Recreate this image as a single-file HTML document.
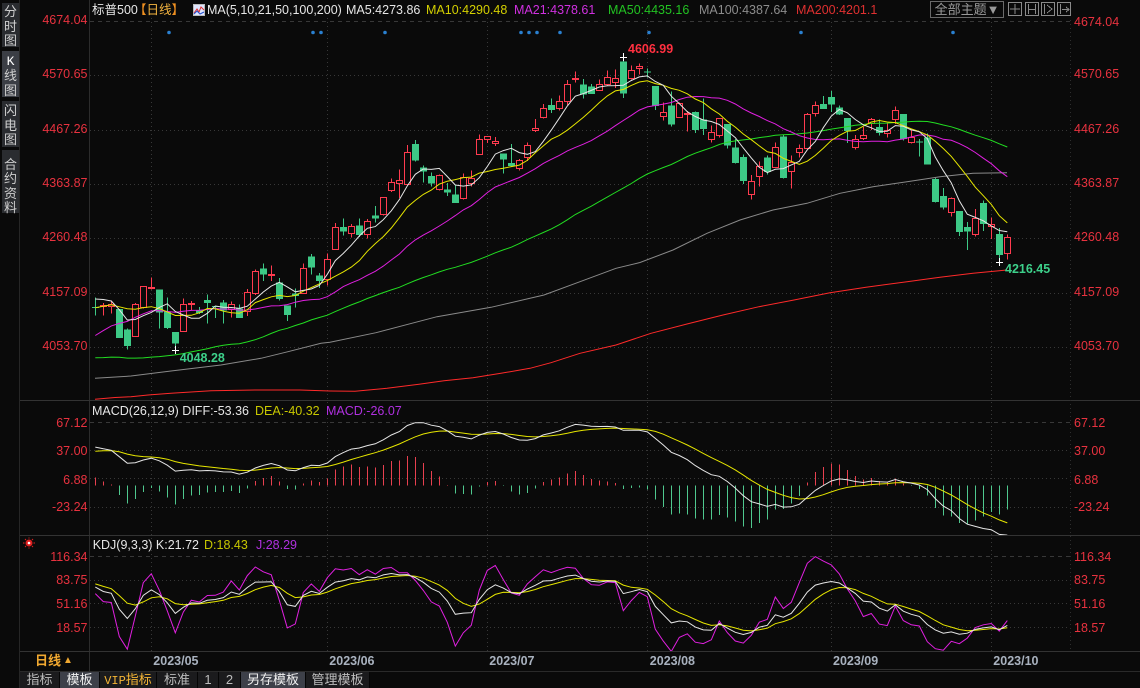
<!DOCTYPE html>
<html><head><meta charset="utf-8">
<style>
*{margin:0;padding:0;box-sizing:border-box}
html,body{width:1140px;height:688px;background:#0a0a0a;overflow:hidden}
body{position:relative;font-family:"Liberation Sans","Noto Sans CJK SC",sans-serif;}
.t{position:absolute;white-space:nowrap;font-size:12.5px;line-height:14px}
.l{text-align:right;width:70px;left:17.5px;color:#e8323f}
.r{left:1074px;color:#e8323f}
.h{top:1px;line-height:18px}
.sb{position:absolute;left:2px;width:17px;background:#2a2c30;color:#cfcfcf;font-size:13px;line-height:14.5px;text-align:center;font-family:"Liberation Sans","Noto Sans CJK SC",sans-serif}
.sbt{position:absolute;left:0;width:17px;text-align:center}
.tab{position:absolute;top:672px;height:16px;line-height:16px;font-size:13px;text-align:center;background:#1b1b1d;color:#bdbdbd;border-right:1px solid #050505;font-family:"Liberation Sans","Noto Sans CJK SC",sans-serif}
.tab.a{background:#3d4049;color:#f0f0f0}
.mo{font-weight:bold;color:#a9b2bf;top:654px}
.mk{font-weight:bold}
</style></head>
<body>
<svg width="1140" height="688" style="position:absolute;left:0;top:0" xmlns="http://www.w3.org/2000/svg">
<defs>
<clipPath id="cm"><rect x="90" y="0" width="980" height="400"/></clipPath>
<clipPath id="cd"><rect x="90" y="401" width="980" height="134"/></clipPath>
<clipPath id="ck"><rect x="90" y="536" width="980" height="115"/></clipPath>
</defs>
<g shape-rendering="crispEdges">
<line x1="19.5" y1="0" x2="19.5" y2="688" stroke="#262626"/>
<line x1="89.5" y1="0" x2="89.5" y2="672" stroke="#2c2c2c"/>
<line x1="20" y1="400.5" x2="1140" y2="400.5" stroke="#333"/>
<line x1="20" y1="535.5" x2="1140" y2="535.5" stroke="#333"/>
<line x1="20" y1="651.5" x2="1140" y2="651.5" stroke="#333"/>
<line x1="20" y1="671.5" x2="1140" y2="671.5" stroke="#2a2a2a"/>
<line x1="860" y1="669.5" x2="1010" y2="669.5" stroke="#2e2e2e"/>
<line x1="1070.5" y1="20" x2="1070.5" y2="651" stroke="#2e2e2e" stroke-dasharray="1 3"/>
<g stroke="#383838" stroke-dasharray="1 3">
<line x1="90" y1="21.5" x2="1070" y2="21.5" stroke-dasharray="4 4"/>
<line x1="90" y1="75.5" x2="1070" y2="75.5"/>
<line x1="90" y1="130.5" x2="1070" y2="130.5"/>
<line x1="90" y1="184.5" x2="1070" y2="184.5"/>
<line x1="90" y1="238.5" x2="1070" y2="238.5"/>
<line x1="90" y1="293.5" x2="1070" y2="293.5"/>
<line x1="90" y1="347.5" x2="1070" y2="347.5"/>
<line x1="90" y1="422.5" x2="1070" y2="422.5" stroke-dasharray="4 4"/>
<line x1="90" y1="450.5" x2="1070" y2="450.5"/>
<line x1="90" y1="478.5" x2="1070" y2="478.5"/>
<line x1="90" y1="507.5" x2="1070" y2="507.5"/>
<line x1="90" y1="556.5" x2="1070" y2="556.5" stroke-dasharray="4 4"/>
<line x1="90" y1="580.5" x2="1070" y2="580.5"/>
<line x1="90" y1="603.5" x2="1070" y2="603.5"/>
<line x1="90" y1="627.5" x2="1070" y2="627.5"/>
<line x1="151.5" y1="18" x2="151.5" y2="651"/>
<line x1="327.5" y1="18" x2="327.5" y2="651"/>
<line x1="487.5" y1="18" x2="487.5" y2="651"/>
<line x1="647.5" y1="18" x2="647.5" y2="651"/>
<line x1="831.5" y1="18" x2="831.5" y2="651"/>
<line x1="991.5" y1="18" x2="991.5" y2="651"/>
</g>
</g>
<g fill="#2a80d0">
<circle cx="169" cy="32.5" r="1.8"/><circle cx="313" cy="32.5" r="1.8"/><circle cx="321" cy="32.5" r="1.8"/><circle cx="385" cy="32.5" r="1.8"/>
<circle cx="521" cy="32.5" r="1.8"/><circle cx="529" cy="32.5" r="1.8"/><circle cx="537" cy="32.5" r="1.8"/><circle cx="560" cy="32.5" r="1.8"/>
<circle cx="649" cy="32.5" r="1.8"/><circle cx="801" cy="32.5" r="1.8"/><circle cx="953" cy="32.5" r="1.8"/>
</g>
<!-- header MA icon -->
<rect x="193.5" y="4.5" width="11" height="11" fill="#dfe6ff" stroke="#bbb"/>
<polyline points="194,13 197,9 199,12 201,7 204,10" fill="none" stroke="#e03030" stroke-width="1"/>
<polyline points="194,14 197,11 200,14 204,12" fill="none" stroke="#2050d0" stroke-width="1"/>
<!-- theme box & tool icons -->
<rect x="930.5" y="1.5" width="73" height="16" fill="none" stroke="#6a6a6a"/>
<g fill="none" stroke="#8a8a8a" shape-rendering="crispEdges">
<rect x="1008.5" y="2.5" width="13" height="13"/>
<line x1="1015" y1="4" x2="1015" y2="14"/><line x1="1010" y1="9" x2="1020" y2="9"/>
<rect x="1025.5" y="2.5" width="13" height="13"/>
<line x1="1028.5" y1="4" x2="1028.5" y2="14"/><line x1="1035.5" y1="4" x2="1035.5" y2="14"/><line x1="1029" y1="9.5" x2="1035" y2="9.5"/>
<rect x="1041.5" y="2.5" width="13" height="13"/>
<line x1="1044.5" y1="4" x2="1044.5" y2="14"/><polyline points="1047,5 1052,9 1047,13"/>
<rect x="1057.5" y="2.5" width="13" height="13"/>
<line x1="1060.5" y1="4" x2="1060.5" y2="14"/><line x1="1062" y1="9.5" x2="1069" y2="9.5"/><polyline points="1066,7 1069,9.5 1066,12"/>
</g>
<!-- KDJ icon -->
<g>
<circle cx="29" cy="543" r="3.5" fill="#e02020"/><circle cx="29" cy="543" r="1.3" fill="#fff"/>
<g stroke="#e02020" stroke-width="1"><line x1="23" y1="543" x2="24.5" y2="543"/><line x1="33.5" y1="543" x2="35" y2="543"/><line x1="29" y1="537.5" x2="29" y2="538.5"/><line x1="29" y1="547.5" x2="29" y2="548.5"/><line x1="25" y1="539" x2="26" y2="540"/><line x1="32" y1="546" x2="33" y2="547"/><line x1="33" y1="539" x2="32" y2="540"/><line x1="25" y1="547" x2="26" y2="546"/></g>
</g>
<g id="dyn"></g>
</svg>

<!-- sidebar -->
<div class="sb" style="top:3px;height:44px"><div class="sbt" style="top:2px">分<br>时<br>图</div></div>
<div class="sb" style="top:51px;height:46px;background:#3b3e45"><div class="sbt" style="top:2.5px"><span style="font-family:'Liberation Mono',monospace;color:#fff">K</span><br>线<br>图</div></div>
<div class="sb" style="top:101px;height:46px"><div class="sbt" style="top:3px">闪<br>电<br>图</div></div>
<div class="sb" style="top:150px;height:63px"><div class="sbt" style="top:7.5px;line-height:14.6px">合<br>约<br>资<br>料</div></div>

<!-- header -->
<div class="t h" style="left:92px;color:#e6e6e6">标普500</div>
<div class="t h" style="left:134px;color:#f09020">【<span style="color:#f5b540">日线</span>】</div>
<div class="t h" style="left:207px;color:#e6e6e6">MA(5,10,21,50,100,200)</div>
<div class="t h" style="left:346px;color:#e6e6e6">MA5:4273.86</div>
<div class="t h" style="left:426px;color:#d4d000">MA10:4290.48</div>
<div class="t h" style="left:514px;color:#d030e0">MA21:4378.61</div>
<div class="t h" style="left:608px;color:#22c222">MA50:4435.16</div>
<div class="t h" style="left:699px;color:#8c8c8c">MA100:4387.64</div>
<div class="t h" style="left:796px;color:#e03030">MA200:4201.1</div>
<div class="t" style="left:931px;top:2px;width:72px;text-align:center;font-size:13px;line-height:15px;color:#9a9a9a">全部主题▼</div>

<!-- main axis labels -->
<div class="t l" style="top:13px">4674.04</div>
<div class="t l" style="top:67.3px">4570.65</div>
<div class="t l" style="top:121.6px">4467.26</div>
<div class="t l" style="top:175.9px">4363.87</div>
<div class="t l" style="top:230.2px">4260.48</div>
<div class="t l" style="top:284.5px">4157.09</div>
<div class="t l" style="top:338.8px">4053.70</div>
<div class="t r" style="top:15px">4674.04</div>
<div class="t r" style="top:67.3px">4570.65</div>
<div class="t r" style="top:121.6px">4467.26</div>
<div class="t r" style="top:175.9px">4363.87</div>
<div class="t r" style="top:230.2px">4260.48</div>
<div class="t r" style="top:284.5px">4157.09</div>
<div class="t r" style="top:338.8px">4053.70</div>

<!-- markers -->
<div class="t mk" style="left:628px;top:42px;color:#ff3040">4606.99</div>
<div class="t mk" style="left:179.7px;top:351.3px;color:#3dd08a">4048.28</div>
<div class="t mk" style="left:1005px;top:262.3px;color:#3dd08a">4216.45</div>

<!-- MACD -->
<div class="t" style="left:92px;top:404px;color:#e6e6e6">MACD(26,12,9) DIFF:-53.36</div>
<div class="t" style="left:255px;top:404px;color:#c8c800">DEA:-40.32</div>
<div class="t" style="left:326px;top:404px;color:#b030e0">MACD:-26.07</div>
<div class="t l" style="top:415.7px">67.12</div>
<div class="t l" style="top:444px">37.00</div>
<div class="t l" style="top:473px">6.88</div>
<div class="t l" style="top:500px">-23.24</div>
<div class="t r" style="top:415.7px">67.12</div>
<div class="t r" style="top:444px">37.00</div>
<div class="t r" style="top:473px">6.88</div>
<div class="t r" style="top:500px">-23.24</div>

<!-- KDJ -->
<div class="t" style="left:92.7px;top:538px;color:#e6e6e6">KDJ(9,3,3) K:21.72</div>
<div class="t" style="left:204px;top:538px;color:#c8c800">D:18.43</div>
<div class="t" style="left:256px;top:538px;color:#b030e0">J:28.29</div>
<div class="t l" style="top:549.7px">116.34</div>
<div class="t l" style="top:573px">83.75</div>
<div class="t l" style="top:596.5px">51.16</div>
<div class="t l" style="top:620.7px">18.57</div>
<div class="t r" style="top:549.7px">116.34</div>
<div class="t r" style="top:573px">83.75</div>
<div class="t r" style="top:596.5px">51.16</div>
<div class="t r" style="top:620.7px">18.57</div>

<!-- date row -->
<div class="t" style="left:35px;top:654px;font-size:13px;font-weight:bold;color:#f0a830">日线</div>
<div class="t" style="left:63px;top:654px;font-size:10px;color:#f0a830">▲</div>
<div class="t mo" style="left:153.3px">2023/05</div>
<div class="t mo" style="left:329.3px">2023/06</div>
<div class="t mo" style="left:489.3px">2023/07</div>
<div class="t mo" style="left:649.8px">2023/08</div>
<div class="t mo" style="left:833px">2023/09</div>
<div class="t mo" style="left:993.3px">2023/10</div>

<!-- bottom tabs -->
<div class="tab" style="left:20px;width:40px">指标</div>
<div class="tab a" style="left:60px;width:40px">模板</div>
<div class="tab" style="left:100px;width:57px;color:#f5b535"><span style="font-family:'Liberation Mono',monospace;font-size:12px">VIP</span>指标</div>
<div class="tab" style="left:157px;width:41px">标准</div>
<div class="tab" style="left:198px;width:21px">1</div>
<div class="tab" style="left:219px;width:22px">2</div>
<div class="tab a" style="left:241px;width:65px">另存模板</div>
<div class="tab" style="left:306px;width:64px">管理模板</div>

<script>
(function(){
var pre=[3824.14,3852.97,3808.10,3895.08,3892.09,3919.25,3969.61,3983.17,3999.09,3990.97,3928.86,3898.85,3972.61,4019.81,4016.95,4016.22,4060.43,4070.56,4017.77,4076.60,
4119.21,4179.76,4136.48,4111.08,4164.00,4117.86,4081.50,4090.46,4137.29,4136.13,4147.60,4090.41,4079.09,3997.34,3991.05,4012.32,3970.04,3982.24,3970.15,
3951.39,3981.35,4045.64,4048.42,3986.37,3992.01,3918.32,3861.59,3855.76,3919.29,3891.93,3960.28,3916.64,3951.57,4002.87,3936.97,3948.72,3970.99,3977.53,3971.27,4027.81,4050.83,4109.31,
4124.51,4100.60,4090.38,4105.02,4109.11,4108.94,4091.95,4146.22,4137.64,4151.32,4154.87,4154.52];
var phl=[[4109.50,4072.55],[4124.26,4102.61],[4132.37,4086.87],[4150.26,4099.40],[4163.19,4113.20],[4151.72,4123.18],[4169.48,4140.36],[4156.29,4124.64]];
var D=[
[4130.48,4148.57,4114.57,4129.79],[4132.14,4138.02,4113.86,4133.52],[4132.07,4142.41,4117.77,4137.04],[4126.43,4126.43,4071.38,4071.63],
[4087.78,4089.67,4049.35,4055.99],[4075.29,4138.24,4075.29,4135.35],[4129.63,4170.06,4127.18,4169.48],
[4166.79,4186.92,4164.12,4167.87],[4164.10,4164.10,4089.72,4119.58],[4122.25,4148.30,4088.86,4090.75],[4082.61,4082.61,4048.28,4061.22],
[4084.73,4147.02,4084.73,4136.25],[4136.98,4142.30,4123.81,4138.12],[4124.25,4130.35,4116.65,4119.17],[4143.74,4154.28,4098.92,4137.64],
[4132.24,4132.80,4109.29,4130.62],[4138.54,4143.74,4099.12,4124.08],[4126.65,4141.25,4110.27,4136.28],[4127.95,4135.54,4109.86,4109.90],
[4122.85,4164.67,4113.62,4158.77],[4157.68,4202.20,4153.50,4198.05],[4204.15,4212.91,4180.20,4191.98],[4190.78,4209.22,4179.68,4192.63],
[4176.80,4185.68,4142.54,4145.58],[4132.96,4132.96,4103.98,4115.24],[4155.71,4165.74,4129.73,4151.28],[4156.16,4212.87,4156.16,4205.45],
[4226.71,4231.10,4192.18,4205.52],[4190.74,4195.44,4166.15,4179.83],
[4183.03,4232.43,4171.64,4221.02],[4241.01,4290.67,4241.01,4282.37],[4282.99,4299.28,4266.82,4273.79],[4271.61,4288.33,4263.09,4283.85],
[4285.47,4299.19,4263.96,4267.52],[4268.69,4298.01,4261.07,4293.93],[4304.88,4322.62,4291.70,4298.86],[4308.32,4340.13,4304.37,4338.93],
[4352.61,4375.37,4349.31,4369.01],[4366.29,4391.82,4337.85,4372.59],[4365.33,4439.20,4362.60,4425.84],[4440.95,4448.47,4407.44,4409.59],
[4396.11,4400.15,4367.19,4388.71],[4380.01,4386.22,4360.14,4365.69],[4355.40,4382.25,4351.82,4381.89],[4354.17,4366.55,4341.34,4348.33],
[4344.84,4362.06,4328.08,4328.82],[4337.36,4384.42,4335.00,4378.41],[4367.48,4390.35,4360.22,4376.86],[4422.44,4458.48,4422.44,4450.38],
[4450.48,4456.46,4442.29,4455.59],[4442.04,4454.06,4436.61,4446.82],[4422.62,4422.62,4385.05,4411.59],[4404.54,4440.39,4397.40,4398.95],
[4394.23,4412.60,4389.92,4409.53],[4415.55,4443.64,4408.46,4439.26],[4467.69,4488.34,4463.23,4472.16],[4491.50,4517.38,4489.36,4510.04],
[4514.61,4527.76,4499.56,4505.42],[4508.86,4532.85,4504.90,4522.79],[4521.78,4562.30,4514.59,4554.98],[4563.87,4578.43,4557.48,4565.72],
[4554.38,4564.74,4527.56,4534.87],[4550.16,4555.00,4535.79,4536.34],[4543.39,4563.41,4541.29,4554.64],[4555.19,4580.62,4552.42,4567.46],
[4558.96,4582.47,4547.58,4566.75],[4598.26,4606.99,4528.56,4537.41],[4565.75,4590.16,4564.01,4582.23],[4584.82,4594.22,4573.14,4588.96],
[4578.83,4584.62,4567.53,4576.73],[4550.93,4550.93,4505.75,4513.39],[4494.27,4519.49,4485.54,4501.89],[4513.96,4540.34,4474.55,4478.03],
[4491.58,4519.84,4491.15,4518.44],[4498.03,4503.31,4464.39,4499.38],[4501.57,4502.44,4461.33,4467.71],[4487.16,4527.37,4457.92,4468.83],
[4450.69,4476.23,4443.98,4464.05],[4458.13,4490.33,4453.44,4489.72],[4478.87,4478.87,4432.19,4437.86],[4433.79,4449.95,4403.55,4404.33],
[4416.32,4421.17,4364.83,4370.36],[4344.88,4381.82,4335.31,4369.71],[4380.28,4407.55,4360.30,4399.77],[4415.33,4418.59,4382.77,4387.55],
[4396.44,4443.18,4396.44,4436.01],[4455.16,4458.30,4375.55,4376.31],[4389.38,4418.46,4356.29,4405.71],[4426.03,4439.56,4414.98,4433.31],
[4432.75,4500.14,4431.68,4497.63],[4500.34,4521.65,4493.59,4514.87],[4517.01,4532.26,4507.39,4507.66],
[4530.60,4541.25,4501.35,4515.77],[4510.06,4514.29,4496.01,4496.83],[4490.35,4490.35,4442.38,4465.48],[4434.55,4457.81,4430.46,4451.14],
[4451.30,4473.53,4448.38,4457.49],[4480.98,4490.77,4467.89,4487.46],[4473.27,4487.11,4456.83,4461.90],[4462.65,4479.39,4453.52,4467.44],
[4487.78,4511.99,4478.69,4505.10],[4497.98,4497.98,4447.21,4450.32],[4445.13,4466.36,4442.11,4453.53],[4445.41,4449.85,4416.61,4443.95],
[4452.81,4461.03,4401.38,4402.20],[4374.36,4375.70,4329.17,4330.00],[4341.74,4357.40,4316.49,4320.06],[4310.62,4338.51,4302.70,4337.44],
[4312.88,4313.01,4265.98,4273.53],[4282.63,4292.07,4238.63,4274.51],[4269.65,4317.27,4264.38,4299.70],[4328.18,4333.15,4274.86,4288.05],
[4284.52,4300.58,4260.21,4288.39],[4269.75,4281.15,4216.45,4229.45],[4233.83,4268.50,4220.48,4263.75]];
var N=D.length,P=pre.length;
function X(i){return 95.3+8*i;}
function Y(p){return 347.3-(p-4053.7)*0.5252;}
function YM(v){return 485.3-v*0.933;}
function YK(v){return 641.2-v*0.727;}
function f(n){return n.toFixed(1);}
var C=pre.concat(D.map(function(d){return d[3];}));
function pl(pts,col){return '<polyline fill="none" stroke="'+col+'" stroke-width="1" points="'+pts.map(function(p){return f(p[0])+','+f(p[1]);}).join(' ')+'"/>';}
function ma(n){return D.map(function(d,i){var s=0;for(var k=0;k<n;k++)s+=C[P+i-k];return [X(i),Y(s/n)];});}
var UP='#ff3b4f',DN='#3dc986';
var cs='';
D.forEach(function(d,i){
 var cx=Math.round(X(i)),x=cx+0.5,op=d[0],hi=d[1],lo=d[2],cl=d[3];
 if(cl>=op){
  var t=Math.round(Y(cl)),b=Math.round(Y(op));
  cs+='<line x1="'+x+'" y1="'+f(Y(hi))+'" x2="'+x+'" y2="'+t+'" stroke="'+UP+'"/>';
  cs+='<line x1="'+x+'" y1="'+b+'" x2="'+x+'" y2="'+f(Y(lo))+'" stroke="'+UP+'"/>';
  cs+='<rect x="'+(cx-2.5)+'" y="'+(t+0.5)+'" width="6" height="'+Math.max(b-t,1)+'" fill="#0a0a0a" stroke="'+UP+'"/>';
 }else{
  var t2=Y(op),b2=Y(cl);
  cs+='<line x1="'+x+'" y1="'+f(Y(hi))+'" x2="'+x+'" y2="'+f(Y(lo))+'" stroke="'+DN+'"/>';
  cs+='<rect x="'+(cx-3)+'" y="'+f(t2)+'" width="7" height="'+f(Math.max(b2-t2,1))+'" fill="'+DN+'"/>';
 }
});
var ma200=[[95,399.3],[115,397.5],[131,396.7],[148,395],[171,393.3],[211,390.7],[255,390],[300,390],[330,391],[355,391.3],[387,388.3],[419,384.3],[444,380.7],[473,377.7],[501,373.3],[530,368.3],[551,362.7],[580,353.3],[616,345],[651,333.3],[687,324],[723,315],[759,306.7],[794,300],[830,292.7],[866,287.3],[890,284],[907,281.7],[940,277.3],[973,273.3],[1007,270]];
var ma100=[[95,378.3],[131,376],[171,371],[221,365],[261,358.3],[288,351.7],[321,343.3],[330,342.3],[376,332.7],[437,316.7],[491,307.3],[544,295],[580,281.7],[616,268.3],[640,262.5],[673,250],[707,233.3],[740,220],[773,210],[807,203.3],[840,193.3],[873,186.7],[907,181.7],[940,176.7],[973,173.3],[1007,172.7]];
var o='<g clip-path="url(#cm)">';
o+='<g shape-rendering="crispEdges">'+cs+'</g>';
o+=pl(ma200,'#ff2a2a')+pl(ma100,'#8a8a8a')+pl(ma(50),'#22dd22')+pl(ma(21),'#e020e0')+pl(ma(10),'#e6e600')+pl(ma(5),'#e6e6e6');
// markers
function cross(cx,cy){return '<g stroke="#fff" shape-rendering="crispEdges"><line x1="'+(cx-3)+'" y1="'+(cy+0.5)+'" x2="'+(cx+4)+'" y2="'+(cy+0.5)+'"/><line x1="'+(cx+0.5)+'" y1="'+(cy-4)+'" x2="'+(cx+0.5)+'" y2="'+(cy+4)+'"/></g>';}
o+=cross(Math.round(X(66)),Math.round(Y(4606.99)));
o+=cross(Math.round(X(10)),Math.round(Y(4048.28)));
o+=cross(Math.round(X(113)),Math.round(Y(4216.45)));
o+='</g>';
// MACD
var e12=0,e26=0,dea=0,dif=[],dea2=[];
for(var j=0;j<C.length;j++){var c=C[j];if(j===0){e12=c;e26=c;}else{e12=e12*11/13+c*2/13;e26=e26*25/27+c*2/27;}var df=e12-e26;dea=dea*0.8+df*0.2;if(j>=P){dif.push(df);dea2.push(dea);}}
var hs='';
for(var i=0;i<N;i++){var v=2*(dif[i]-dea2[i]);var xx=Math.round(X(i))+0.5;hs+='<line x1="'+xx+'" y1="'+f(YM(0))+'" x2="'+xx+'" y2="'+f(YM(v))+'" stroke="'+(v>=0?'#e8404f':'#4fc88e')+'"/>';}
o+='<g clip-path="url(#cd)"><g shape-rendering="crispEdges">'+hs+'</g>';
o+=pl(dea2.map(function(v,i){return [X(i),YM(v)];}),'#e6e600');
o+=pl(dif.map(function(v,i){return [X(i),YM(v)];}),'#e6e6e6');
o+='</g>';
// KDJ
var HL=phl.concat(D.map(function(d){return [d[1],d[2]];}));
var K=82,Dd=81,kp=[],dp=[],jp=[];
for(var i2=0;i2<N;i2++){var hh=-1e9,ll=1e9;for(var q=i2;q<=i2+8;q++){if(HL[q][0]>hh)hh=HL[q][0];if(HL[q][1]<ll)ll=HL[q][1];}
 var rsv=hh>ll?(D[i2][3]-ll)/(hh-ll)*100:50;K=K*2/3+rsv/3;Dd=Dd*2/3+K/3;var J=3*K-2*Dd;
 kp.push([X(i2),YK(K)]);dp.push([X(i2),YK(Dd)]);jp.push([X(i2),YK(J)]);}
o+='<g clip-path="url(#ck)">'+pl(jp,'#e020e0')+pl(dp,'#e6e600')+pl(kp,'#e6e6e6')+'</g>';
document.getElementById('dyn').innerHTML=o;
})();
</script>
</body></html>
